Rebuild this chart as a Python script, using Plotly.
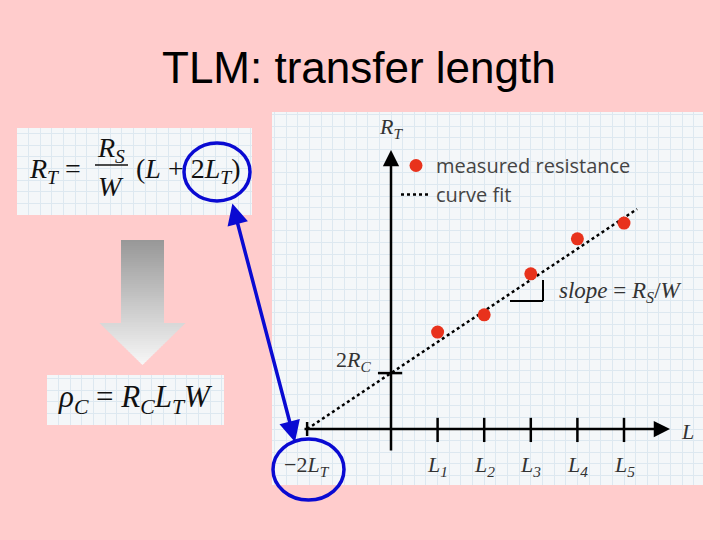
import plotly.graph_objects as go

# ---------------- data (in chart units) ----------------
tick_names = ["L<sub>1</sub>", "L<sub>2</sub>", "L<sub>3</sub>", "L<sub>4</sub>", "L<sub>5</sub>"]
lengths = [1, 2, 3, 4, 5]
resistance = [2.08, 2.45, 3.33, 4.08, 4.42]
fit_x = [-1.80, 5.28]
fit_y = [0.0, 4.72]
intercept_2rc = 1.20
minus_2lt = -1.80

W, H = 720, 540
def px(x):
    return x / W
def py(y):
    return 1 - y / H

SERIF = "Liberation Serif"
SANS = "Liberation Sans"
BLUE = "#0a0ad2"

fig = go.Figure()

# fit line and measured points
fig.add_trace(go.Scatter(x=fit_x, y=fit_y, mode="lines", name="curve fit",
                         line=dict(color="black", width=2.5, dash="dot"),
                         hoverinfo="skip"))
fig.add_trace(go.Scatter(x=lengths, y=resistance, mode="markers", name="measured resistance",
                         marker=dict(color="#e8321c", size=13), hoverinfo="skip"))
# invisible traces to activate formula-box subplots
fig.add_trace(go.Scatter(x=[0], y=[0], xaxis="x2", yaxis="y2", mode="markers",
                         marker=dict(opacity=0), showlegend=False, hoverinfo="skip"))
fig.add_trace(go.Scatter(x=[0], y=[0], xaxis="x3", yaxis="y3", mode="markers",
                         marker=dict(opacity=0), showlegend=False, hoverinfo="skip"))

GRID = "#dde8f0"
grid_ax = dict(showgrid=True, gridcolor=GRID, gridwidth=1, zeroline=False,
               showticklabels=False, ticks="", showline=False, fixedrange=True)

unit = 46.6
x0p, y0p = 391, 429  # pixel origin
x_range = [(272 - x0p) / unit, (703 - x0p) / unit]
y_range = [(y0p - 485) / unit, (y0p - 112) / unit]

fig.update_layout(
    width=W, height=H,
    margin=dict(l=0, r=0, t=0, b=0),
    paper_bgcolor="#ffcccc",
    plot_bgcolor="#f4f7f9",
    xaxis=dict(domain=[px(272), px(703)], range=x_range, dtick=0.25, tick0=0, **grid_ax),
    yaxis=dict(domain=[py(485), py(112)], range=y_range, dtick=0.25, tick0=0, **grid_ax),
    xaxis2=dict(domain=[px(17), px(252)], range=[0, 235], dtick=11.65, tick0=0, anchor="y2", **grid_ax),
    yaxis2=dict(domain=[py(215), py(128)], range=[0, 87], dtick=11.65, tick0=0, anchor="x2", **grid_ax),
    xaxis3=dict(domain=[px(47), px(224)], range=[0, 177], dtick=11.65, tick0=0, anchor="y3", **grid_ax),
    yaxis3=dict(domain=[py(425), py(375)], range=[0, 50], dtick=11.65, tick0=0, anchor="x3", **grid_ax),
    showlegend=True,
    legend=dict(x=px(396), y=py(146), xanchor="left", yanchor="top",
                bgcolor="rgba(0,0,0,0)", font=dict(family="Open Sans", size=20, color="#444444"),
                traceorder="reversed", itemwidth=30),
)

shapes = []
ann = []

def note(x, y, text, font, xref="paper", yref="paper", xanchor="center", yanchor="middle"):
    ann.append(dict(x=x, y=y, xref=xref, yref=yref, showarrow=False, text=text, font=font,
                    xanchor=xanchor, yanchor=yanchor))

# axes arrows
ann.append(dict(x=(670 - x0p) / unit, y=0, ax=(303 - x0p) / unit, ay=0, xref="x", yref="y",
                axref="x", ayref="y", showarrow=True, arrowhead=2, arrowsize=1.3,
                arrowwidth=2.5, arrowcolor="black", text=""))
ann.append(dict(x=0, y=(y0p - 150) / unit, ax=0, ay=(y0p - 452) / unit, xref="x", yref="y",
                axref="x", ayref="y", showarrow=True, arrowhead=2, arrowsize=1.3,
                arrowwidth=2.5, arrowcolor="black", text=""))

# ticks
for L in lengths:
    shapes.append(dict(type="line", xref="x", yref="y", x0=L, x1=L, y0=-0.28, y1=0.24,
                       line=dict(color="black", width=2.5)))
shapes.append(dict(type="line", xref="x", yref="y", x0=minus_2lt, x1=minus_2lt, y0=-0.15, y1=0.15,
                   line=dict(color="black", width=2.5)))
shapes.append(dict(type="line", xref="x", yref="y", x0=-0.28, x1=0.24, y0=intercept_2rc, y1=intercept_2rc,
                   line=dict(color="black", width=2.5)))

# slope triangle
sx0, sx1 = (510 - x0p) / unit, (543 - x0p) / unit
sy0, sy1 = (y0p - 301) / unit, (y0p - 280) / unit
shapes.append(dict(type="line", xref="x", yref="y", x0=sx1, x1=sx1, y0=sy0, y1=sy1,
                   line=dict(color="black", width=2)))
shapes.append(dict(type="line", xref="x", yref="y", x0=sx0, x1=sx1, y0=sy0, y1=sy0,
                   line=dict(color="black", width=2)))

lab_font = dict(family=SERIF, size=22, color="#333333")
for L, name in zip(lengths, tick_names):
    note(L, (y0p - 466) / unit,
         "<i>" + name.replace("<sub>", "</i><sub><i>").replace("</sub>", "</i></sub><i>") + "</i>",
         lab_font, xref="x", yref="y")
note(minus_2lt, (y0p - 466) / unit, "−2<i>L</i><sub><i>T</i></sub>", lab_font, xref="x", yref="y")
note((373 - x0p) / unit, (y0p - 361) / unit, "2<i>R</i><sub><i>C</i></sub>", lab_font,
     xref="x", yref="y", xanchor="right")
note(0, (y0p - 128) / unit, "<i>R</i><sub><i>T</i></sub>", lab_font, xref="x", yref="y")
note((687 - x0p) / unit, (y0p - 431) / unit, "<i>L</i>", lab_font, xref="x", yref="y")
note((557 - x0p) / unit, (y0p - 292) / unit,
     "<i>slope</i> = <i>R</i><sub><i>S</i></sub>/<i>W</i>",
     dict(family=SERIF, size=23, color="#333333"), xref="x", yref="y", xanchor="left")

# title
note(px(359), py(68), "TLM: transfer length", dict(family=SANS, size=44, color="black"))

# formula box 1
f1 = dict(family=SERIF, size=28, color="#111111")
note(px(27), py(170), "<i>R</i><sub><i>T</i></sub> =", f1, xanchor="left")
note(px(111), py(149), "<i>R</i><sub><i>S</i></sub>", f1)
note(px(111), py(186), "<i>W</i>", f1)
shapes.append(dict(type="line", xref="paper", yref="paper", x0=px(95), x1=px(128), y0=py(165), y1=py(165),
                   line=dict(color="#111111", width=1.5)))
note(px(134), py(170), "(<i>L</i> + 2<i>L</i><sub><i>T</i></sub>)", f1, xanchor="left")

# formula box 2
note(px(135), py(399),
     "<i>ρ</i><sub><i>C</i></sub> = <i>R</i><sub><i>C</i></sub><i>L</i><sub><i>T</i></sub><i>W</i>",
     dict(family=SERIF, size=31, color="#111111"))

# gray gradient arrow
def gray(t):
    v = int(round(152 + (248 - 152) * t))
    return f"rgb({v},{v},{v})"
top, mid, tip = 240, 323, 365
step = 2
y = top
while y < mid:
    y2 = min(y + step, mid)
    t = (y - top) / (tip - top)
    shapes.append(dict(type="rect", xref="paper", yref="paper", x0=px(121), x1=px(164),
                       y0=py(y), y1=py(y2 + 0.6), fillcolor=gray(t), line=dict(width=0), layer="below"))
    y = y2
cx = 142.5
while y < tip:
    y2 = min(y + step, tip)
    t = (y - top) / (tip - top)
    h1 = 43 * (tip - y) / (tip - mid)
    yb = min(y2 + 0.6, tip)
    h2 = 43 * (tip - yb) / (tip - mid)
    path = (f"M {px(cx - h1)} {py(y)} L {px(cx + h1)} {py(y)} "
            f"L {px(cx + h2)} {py(yb)} L {px(cx - h2)} {py(yb)} Z")
    shapes.append(dict(type="path", xref="paper", yref="paper", path=path,
                       fillcolor=gray(t), line=dict(width=0), layer="below"))
    y = y2

# blue circles and double arrow
shapes.append(dict(type="circle", xref="paper", yref="paper", x0=px(184), x1=px(250),
                   y0=py(201), y1=py(143), line=dict(color=BLUE, width=3.5)))
shapes.append(dict(type="circle", xref="paper", yref="paper", x0=px(273), x1=px(344),
                   y0=py(500), y1=py(439), line=dict(color=BLUE, width=3.5)))
ann.append(dict(x=px(295), y=py(442), xref="paper", yref="paper", ax=-63, ay=-240,
                showarrow=True, arrowhead=2, arrowsize=1.2, arrowwidth=3.5, arrowcolor=BLUE,
                arrowside="end+start", startarrowhead=2, startarrowsize=1.2, text=""))

fig.update_layout(shapes=shapes, annotations=ann)
fig.write_html("out.html", config={"displayModeBar": False},
               post_script="document.body.style.margin='0';")
